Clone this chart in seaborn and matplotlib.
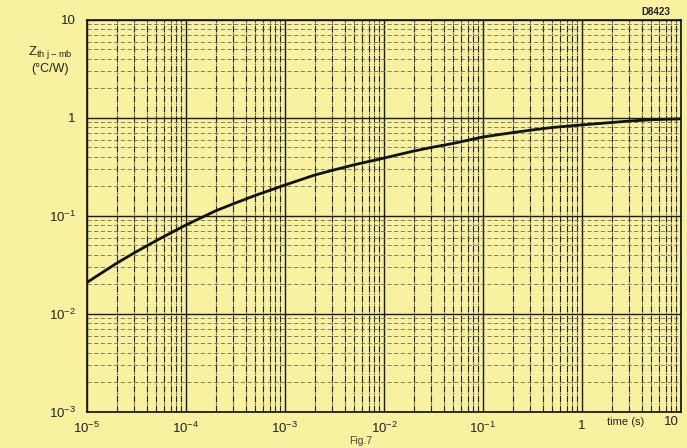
import numpy as np
import pandas as pd
import matplotlib.pyplot as plt
import seaborn as sns

# curve
time_s = [1e-5, 2e-5, 3e-5, 5e-5, 1e-4, 2e-4, 3e-4, 5e-4, 1e-3, 2e-3, 3e-3, 5e-3,
          1e-2, 2e-2, 3e-2, 5e-2, 1e-1, 2e-1, 3e-1, 5e-1, 1, 2, 3, 5, 10]
zth = [0.021, 0.033, 0.042, 0.056, 0.081, 0.113, 0.133, 0.162, 0.207, 0.262, 0.292, 0.333,
       0.39, 0.46, 0.5, 0.55, 0.64, 0.71, 0.75, 0.80, 0.85, 0.90, 0.93, 0.96, 0.98]

xticks = [1e-5, 1e-4, 1e-3, 1e-2, 1e-1, 1, 10]
xticklabels = ["$10^{-5}$", "$10^{-4}$", "$10^{-3}$", "$10^{-2}$", "$10^{-1}$", "1", ""]
yticks = [1e-3, 1e-2, 1e-1, 1, 10]
yticklabels = ["$10^{-3}$", "$10^{-2}$", "$10^{-1}$", "1", "10"]

df = pd.DataFrame({"time": time_s, "zth": zth})

sns.set_style("ticks")
plt.rcParams["font.family"] = ["Liberation Sans", "DejaVu Sans"]
plt.rcParams["mathtext.fontset"] = "custom"
plt.rcParams["mathtext.rm"] = "Liberation Sans"

bg = "#f8f1a0"
fig = plt.figure(figsize=(6.87, 4.48), dpi=100, facecolor=bg)
ax = fig.add_axes([0.1266, 0.0804, 0.8647, 0.875])
ax.set_facecolor(bg)

ax.set_xscale("log")
ax.set_yscale("log")
ax.set_xlim(1e-5, 10)
ax.set_ylim(1e-3, 10)

ax.grid(which="major", axis="both", color="#1a1a1a", lw=1.0)
ax.grid(which="minor", axis="x", color="#222222", lw=0.8, ls=(0, (6, 1, 1, 1)))
ax.grid(which="minor", axis="y", color="#6a6a55", lw=0.6, ls=(0, (5, 3)))

sns.lineplot(data=df, x="time", y="zth", ax=ax, color="#111111", lw=2.0)

ax.set_xticks(xticks)
ax.set_xticklabels(xticklabels)
ax.set_yticks(yticks)
ax.set_yticklabels(yticklabels)
ax.tick_params(which="both", length=0, labelsize=9.5, colors="#222222")
ax.tick_params(axis="x", pad=6)
ax.tick_params(axis="y", pad=8)
ax.set_xlabel("")
ax.set_ylabel("")
for s in ax.spines.values():
    s.set_color("#111111")
    s.set_linewidth(1.2)

fig.text(0.978, 0.058, "10", fontsize=9.5, color="#222222", ha="center", va="center")
fig.text(0.91, 0.058, "time (s)", fontsize=8, color="#222222", ha="center", va="center")
fig.text(0.073, 0.882, "Z$_{\\mathrm{th\\ j-mb}}$", fontsize=9.5, color="#222222", ha="center", va="center")
fig.text(0.073, 0.845, "(°C/W)", fontsize=9, color="#222222", ha="center", va="center")
fig.text(0.955, 0.973, "D8423", fontsize=7, fontweight="bold", color="#222222", ha="center", va="center")
fig.text(0.525, 0.004, "Fig.7", fontsize=7.5, color="#444444", ha="center", va="bottom")

sns.despine(ax=ax, top=False, right=False)
fig.savefig("out.png", dpi=100, facecolor=bg)
